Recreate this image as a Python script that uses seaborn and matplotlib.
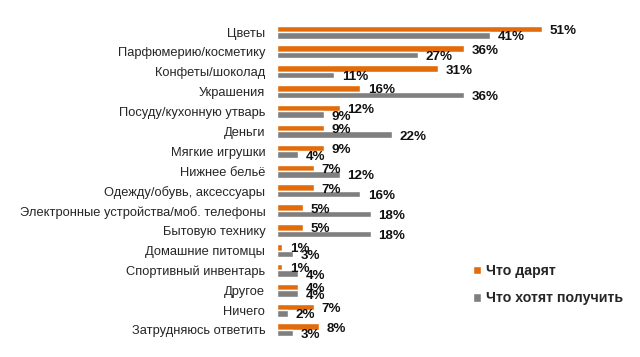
import pandas as pd
import seaborn as sns
import matplotlib.pyplot as plt

categories = ['Цветы', 'Парфюмерию/косметику', 'Конфеты/шоколад', 'Украшения',
              'Посуду/кухонную утварь', 'Деньги', 'Мягкие игрушки', 'Нижнее бельё',
              'Одежду/обувь, аксессуары', 'Электронные устройства/моб. телефоны',
              'Бытовую технику', 'Домашние питомцы', 'Спортивный инвентарь',
              'Другое', 'Ничего', 'Затрудняюсь ответить']
give = [51, 36, 31, 16, 12, 9, 9, 7, 7, 5, 5, 1, 1, 4, 7, 8]
want = [41, 27, 11, 36, 9, 22, 4, 12, 16, 18, 18, 3, 4, 4, 2, 3]
series = ['Что дарят', 'Что хотят получить']
colors = ['#E36C0A', '#7F7F7F']

df = pd.DataFrame({'cat': categories * 2,
                   'val': give + want,
                   'series': [series[0]] * len(give) + [series[1]] * len(want)})

sns.set_style('white')
plt.rcParams['font.family'] = ['Liberation Sans', 'DejaVu Sans']

fig = plt.figure(figsize=(6.4, 3.57), dpi=100)
ax = fig.add_axes([0.433, 0.048, 0.4875, 0.89])
sns.barplot(data=df, y='cat', x='val', hue='series', hue_order=series,
            palette=colors, orient='h', width=0.66, ax=ax, saturation=1)

for cont in ax.containers:
    txts = ax.bar_label(cont, labels=[f'{int(v)}%' for v in cont.datavalues],
                        padding=5, fontsize=9.6, fontweight='bold', color='#111111')
    for t in txts:
        t.xyann = (5.5, -1.5)

ax.set_xlim(0, 60)
ax.set_xlabel('')
ax.set_ylabel('')
ax.set_xticks([])
ax.tick_params(axis='y', length=0, pad=8.5, labelsize=9.3)
for s in ax.spines.values():
    s.set_visible(False)

ax.legend(loc='center left', bbox_to_anchor=(0.728, 0.203), bbox_transform=fig.transFigure,
          frameon=False, handlelength=0.55, handleheight=0.55, handletextpad=0.35,
          labelspacing=0.95, borderpad=0, prop={'size': 10.2, 'weight': 'bold'})

plt.savefig('out.png', dpi=100)
